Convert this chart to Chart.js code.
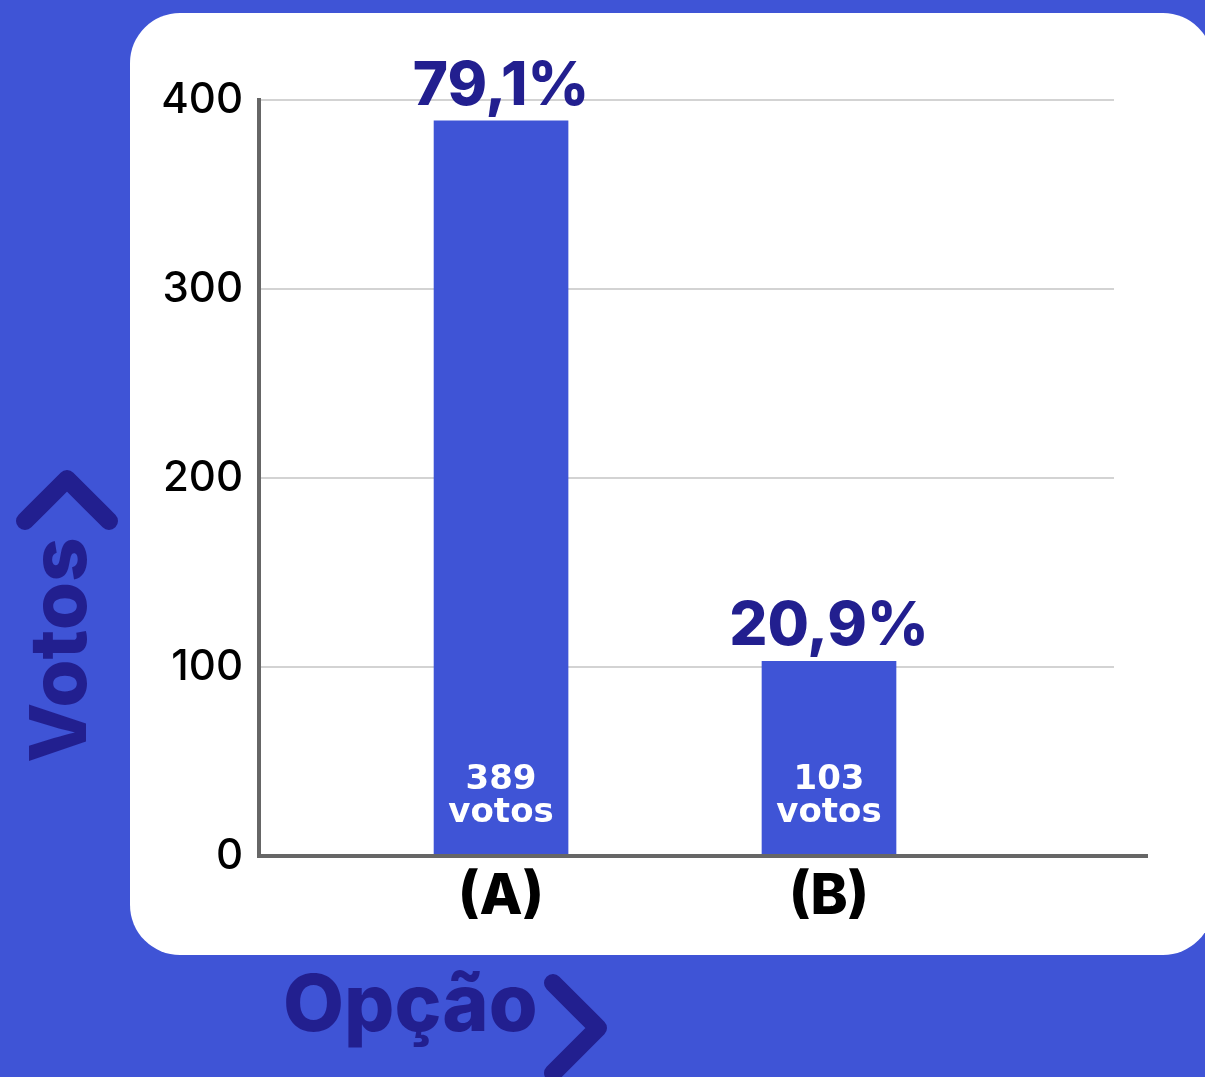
<!DOCTYPE html>
<html>
<head>
<meta charset="utf-8">
<script src="https://cdn.jsdelivr.net/npm/chart.js@4"></script>
<style>
  html, body { margin: 0; padding: 0; }
  body { width: 1205px; height: 1077px; background: #3f54d6; position: relative; overflow: hidden; }
  #panel { position: absolute; left: 130px; top: 13px; width: 1083px; height: 942px; background: #ffffff; border-radius: 50px; }
  #wrap { position: absolute; left: 0; top: 0; width: 1205px; height: 1077px; }
  #deco { position: absolute; left: 0; top: 0; }
</style>
</head>
<body>
<div id="panel"></div>
<svg id="deco" width="1205" height="1077" xmlns="http://www.w3.org/2000/svg">
  <g fill="none" stroke="#221f8f" stroke-width="18" stroke-linecap="round" stroke-linejoin="round">
    <polyline points="25,521 67,479 109,521"/>
    <polyline points="553,983 598,1028 553,1073"/>
  </g>
  <text x="0" y="0" transform="translate(86,650) rotate(-90)" text-anchor="middle" font-family="Inter" font-weight="800" font-size="78" fill="#221f8f">Votos</text>
  <text x="283" y="1031" font-family="Inter" font-weight="800" font-size="79" fill="#221f8f">Opção</text>
</svg>
<div id="wrap"><canvas id="c" width="1205" height="1077"></canvas></div>
<script>
const categories = ['(A)', '(B)'];
const votes = [389, 103];
const pctLabels = ['79,1%', '20,9%'];
const yTicks = [0, 100, 200, 300, 400];

const NAVY = '#221f8f';
const BAR = '#3f54d6';

const labelPlugin = {
  id: 'labels',
  afterDatasetsDraw(chart) {
    const ctx = chart.ctx;
    const meta = chart.getDatasetMeta(0);
    ctx.save();
    meta.data.forEach((bar, i) => {
      ctx.textAlign = 'center';
      ctx.textBaseline = 'alphabetic';
      ctx.fillStyle = NAVY;
      ctx.font = '800 60px Inter';
      ctx.fillText(pctLabels[i], bar.x, bar.y - 16);
      ctx.fillStyle = '#ffffff';
      ctx.font = 'bold 34px "DejaVu Sans"';
      ctx.fillText(String(votes[i]), bar.x, bar.base - 66);
      ctx.fillText('votos', bar.x, bar.base - 33);
    });
    const y0 = chart.scales.y.getPixelForValue(0);
    const a = chart.chartArea;
    ctx.strokeStyle = '#666666';
    ctx.lineWidth = 4;
    ctx.beginPath();
    ctx.moveTo(a.left - 2, y0);
    ctx.lineTo(a.right + 34, y0);
    ctx.stroke();
    ctx.restore();
  }
};

new Chart(document.getElementById('c'), {
  type: 'bar',
  data: {
    datasets: [{
      data: categories.map((c, i) => ({ x: i, y: votes[i] })),
      backgroundColor: BAR,
      borderWidth: 0,
      barThickness: 134
    }]
  },
  options: {
    responsive: false,
    animation: false,
    layout: { padding: { left: 0, top: 100, right: 91, bottom: 0 } },
    plugins: { legend: { display: false }, tooltip: { enabled: false } },
    scales: {
      x: {
        type: 'linear',
        offset: false,
        bounds: 'data',
        min: -0.738,
        max: 1.869,
        afterBuildTicks(s) { s.ticks = categories.map((_, i) => ({ value: i })); },
        afterFit(s) { s.height = 221; },
        grid: { display: false, drawTicks: false, offset: false },
        border: { display: false },
        ticks: {
          callback: (v) => categories[v] ?? '',
          color: '#000000',
          font: { family: 'Inter', weight: '800', size: 56 },
          padding: 8,
          maxRotation: 0,
          autoSkip: false
        }
      },
      y: {
        min: 0,
        max: 400,
        afterBuildTicks(s) { s.ticks = yTicks.map(v => ({ value: v })); },
        afterFit(s) { s.width = 259; },
        grid: { color: '#d3d3d3', lineWidth: 2, drawTicks: false },
        border: { color: '#666666', width: 4 },
        ticks: {
          color: '#000000',
          font: { family: 'Inter', weight: '500', size: 42 },
          padding: 16
        }
      }
    }
  },
  plugins: [labelPlugin]
});
</script>
</body>
</html>
